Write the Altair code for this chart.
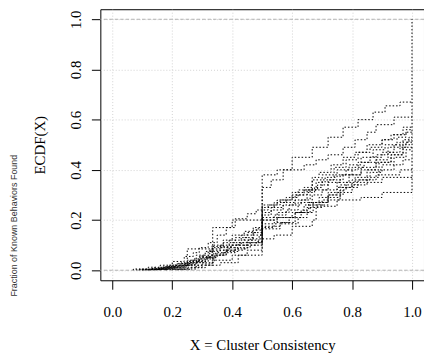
import altair as alt
import pandas as pd

X_MIN, X_MAX = -0.04, 1.04
X_TICKS = [0.0, 0.2, 0.4, 0.6, 0.8, 1.0]
Y_TICKS = [0.0, 0.2, 0.4, 0.6, 0.8, 1.0]
REF_LINES = [0.0, 1.0]

# step points (x where the ECDF jumps, value after jump)
S01 = [(0.22,0.005),(0.28,0.02),(0.335,0.17),(0.40,0.20),(0.50,0.38),(0.55,0.40),(0.60,0.45),(0.667,0.49),(0.72,0.53),(0.77,0.57),(0.82,0.60),(0.87,0.63),(0.91,0.655),(0.96,0.67)]
S02 = [(0.07,0.005),(0.12,0.012),(0.16,0.02),(0.20,0.035),(0.24,0.055),(0.27,0.07),(0.29,0.09),(0.32,0.11),(0.35,0.14),(0.38,0.17),(0.41,0.205),(0.45,0.225),(0.48,0.24),(0.50,0.33),(0.53,0.36),(0.57,0.40),(0.64,0.42),(0.68,0.44),(0.72,0.46),(0.77,0.49),(0.81,0.52),(0.85,0.55),(0.88,0.58),(0.94,0.61)]
S03 = [(0.09,0.004),(0.14,0.01),(0.19,0.02),(0.23,0.03),(0.27,0.045),(0.30,0.06),(0.333,0.09),(0.37,0.11),(0.41,0.13),(0.45,0.15),(0.48,0.165),(0.50,0.25),(0.54,0.27),(0.58,0.29),(0.62,0.32),(0.667,0.36),(0.70,0.38),(0.74,0.41),(0.78,0.44),(0.82,0.47),(0.86,0.49),(0.90,0.52),(0.93,0.54),(0.97,0.57)]
S04 = [(0.11,0.003),(0.16,0.008),(0.21,0.018),(0.25,0.03),(0.29,0.045),(0.32,0.075),(0.36,0.09),(0.40,0.11),(0.44,0.13),(0.47,0.15),(0.50,0.23),(0.53,0.25),(0.57,0.27),(0.61,0.30),(0.65,0.32),(0.68,0.35),(0.71,0.37),(0.75,0.40),(0.79,0.42),(0.83,0.45),(0.87,0.48),(0.91,0.50),(0.95,0.53),(0.98,0.55)]
S05 = [(0.12,0.004),(0.17,0.01),(0.22,0.02),(0.26,0.032),(0.30,0.05),(0.345,0.07),(0.38,0.09),(0.42,0.11),(0.46,0.125),(0.50,0.21),(0.55,0.23),(0.59,0.26),(0.63,0.28),(0.66,0.32),(0.72,0.35),(0.76,0.38),(0.80,0.41),(0.84,0.43),(0.88,0.46),(0.92,0.49),(0.96,0.51),(0.99,0.53)]
S06 = [(0.10,0.002),(0.15,0.006),(0.20,0.014),(0.24,0.025),(0.28,0.04),(0.31,0.05),(0.333,0.065),(0.37,0.08),(0.41,0.10),(0.45,0.12),(0.49,0.14),(0.50,0.20),(0.54,0.22),(0.58,0.24),(0.62,0.27),(0.667,0.30),(0.70,0.32),(0.75,0.35),(0.79,0.38),(0.83,0.41),(0.88,0.44),(0.92,0.47),(0.96,0.49),(0.98,0.51)]
S07 = [(0.13,0.003),(0.18,0.01),(0.23,0.02),(0.27,0.03),(0.31,0.045),(0.34,0.06),(0.38,0.075),(0.42,0.09),(0.46,0.11),(0.50,0.185),(0.55,0.21),(0.60,0.23),(0.64,0.26),(0.69,0.29),(0.72,0.31),(0.76,0.34),(0.81,0.37),(0.85,0.40),(0.89,0.43),(0.93,0.46),(0.97,0.49)]
S08 = [(0.08,0.002),(0.13,0.007),(0.18,0.015),(0.22,0.027),(0.26,0.04),(0.29,0.055),(0.333,0.085),(0.36,0.10),(0.39,0.12),(0.43,0.14),(0.47,0.16),(0.50,0.24),(0.52,0.26),(0.56,0.28),(0.60,0.31),(0.64,0.33),(0.667,0.37),(0.69,0.39),(0.73,0.42),(0.77,0.45),(0.81,0.47),(0.85,0.50),(0.90,0.52),(0.94,0.54),(0.98,0.56)]
S09 = [(0.14,0.004),(0.19,0.012),(0.24,0.022),(0.28,0.035),(0.32,0.05),(0.35,0.06),(0.37,0.07),(0.41,0.085),(0.45,0.10),(0.48,0.115),(0.50,0.17),(0.54,0.19),(0.59,0.21),(0.63,0.24),(0.655,0.27),(0.72,0.30),(0.77,0.33),(0.82,0.36),(0.86,0.39),(0.90,0.42),(0.94,0.45),(0.98,0.48)]
S10 = [(0.10,0.004),(0.16,0.012),(0.20,0.02),(0.25,0.035),(0.29,0.05),(0.325,0.08),(0.39,0.10),(0.43,0.12),(0.47,0.14),(0.50,0.22),(0.53,0.24),(0.57,0.26),(0.61,0.28),(0.65,0.31),(0.675,0.33),(0.70,0.36),(0.74,0.38),(0.78,0.40),(0.82,0.43),(0.86,0.45),(0.90,0.47),(0.94,0.50),(0.97,0.52)]
S11 = [(0.12,0.005),(0.17,0.015),(0.21,0.025),(0.25,0.04),(0.28,0.06),(0.31,0.075),(0.333,0.10),(0.37,0.12),(0.40,0.14),(0.44,0.155),(0.47,0.17),(0.50,0.26),(0.55,0.28),(0.60,0.30),(0.64,0.32),(0.685,0.34),(0.72,0.36),(0.77,0.38),(0.83,0.40),(0.88,0.43),(0.93,0.46),(0.97,0.50)]
S12 = [(0.20,0.004),(0.26,0.01),(0.31,0.02),(0.36,0.03),(0.42,0.06),(0.50,0.125),(0.54,0.14),(0.60,0.175),(0.667,0.20),(0.68,0.255),(0.75,0.28),(0.83,0.29),(0.90,0.31)]
S13 = [(0.18,0.005),(0.24,0.012),(0.30,0.025),(0.333,0.04),(0.40,0.06),(0.45,0.08),(0.50,0.175),(0.56,0.19),(0.61,0.23),(0.66,0.26),(0.72,0.29),(0.76,0.32),(0.78,0.35),(0.90,0.37)]
S14 = [(0.16,0.004),(0.25,0.085),(0.335,0.095),(0.40,0.10),(0.45,0.11),(0.50,0.20),(0.55,0.21),(0.61,0.23),(0.67,0.27),(0.72,0.30),(0.75,0.33),(0.80,0.36),(0.88,0.38),(0.96,0.40)]
S15 = [(0.15,0.005),(0.21,0.013),(0.25,0.02),(0.30,0.03),(0.34,0.06),(0.38,0.08),(0.44,0.10),(0.50,0.165),(0.56,0.185),(0.62,0.21),(0.65,0.25),(0.70,0.28),(0.76,0.31),(0.80,0.34),(0.85,0.37),(0.89,0.40),(0.94,0.42),(0.97,0.44)]

SERIES = {"s01": S01, "s02": S02, "s03": S03, "s04": S04, "s05": S05,
          "s06": S06, "s07": S07, "s08": S08, "s09": S09, "s10": S10,
          "s11": S11, "s12": S12, "s13": S13, "s14": S14, "s15": S15}
FINAL_JUMP = ["s12"]   # the curve whose last jump up to 1.0 at x = 1 is drawn

rows = []
for name, pts in SERIES.items():
    full = [(pts[0][0], 0.0)] + pts + [(1.0, pts[-1][1])]
    if name in FINAL_JUMP:
        full.append((1.0, 1.0))
    for i, (x, y) in enumerate(full):
        rows.append({"series": name, "i": i, "x": x, "y": y})
df = pd.DataFrame(rows)

SERIF = "Liberation Serif"
xscale = alt.Scale(domain=[X_MIN, X_MAX], nice=False, zero=False)
yscale = alt.Scale(domain=[-0.04, 1.04], nice=False, zero=False)

xaxis = alt.Axis(values=X_TICKS, format=".1f", labelFont=SERIF, labelFontSize=15,
                 labelColor="black", tickColor="black", tickSize=9, domain=False,
                 grid=True, gridColor="#d3d3d3", gridDash=[1, 2], gridWidth=1,
                 labelPadding=27, labelBaseline="alphabetic",
                 title="X = Cluster Consistency", titleFont=SERIF, titleFontSize=15,
                 titleFontWeight="normal", titleColor="black",
                 titleY=70, titleBaseline="alphabetic")
yaxis = alt.Axis(values=Y_TICKS, format=".1f", labelFont=SERIF, labelFontSize=15,
                 labelColor="black", tickColor="black", tickSize=9, domain=False,
                 grid=True, gridColor="#d3d3d3", gridDash=[1, 2], gridWidth=1,
                 labelAngle=270, labelAlign="center", labelBaseline="alphabetic",
                 labelPadding=11,
                 title="ECDF(X)", titleFont=SERIF, titleFontSize=15,
                 titleFontWeight="normal", titleColor="black", titleAngle=270,
                 titleX=-56, titleY=136.5, titleAlign="center",
                 titleBaseline="alphabetic")

rules = alt.Chart(pd.DataFrame({"y": REF_LINES})).mark_rule(
    color="#b3b3b3", strokeDash=[3.5, 2], strokeWidth=1
).encode(y=alt.Y("y:Q", scale=yscale, axis=yaxis))

lines = alt.Chart(df).mark_line(
    interpolate="step-after", color="black", strokeWidth=1,
    strokeDash=[1.5, 2], clip=True
).encode(
    x=alt.X("x:Q", scale=xscale, axis=xaxis),
    y=alt.Y("y:Q", scale=yscale, axis=yaxis),
    detail="series:N",
    order="i:Q",
)

side = alt.Chart(pd.DataFrame({"t": ["Fraction of Known Behaviors Found"]})).mark_text(
    font="Liberation Sans", fontSize=9, angle=270, align="center",
    baseline="alphabetic", color="#333333"
).encode(text="t:N", x=alt.value(-84), y=alt.value(218))

chart = alt.layer(rules, lines, side).properties(
    width=326, height=273,
    autosize=alt.AutoSizeParams(type="none"),
    padding={"left": 93, "top": 0, "right": 0, "bottom": 72},
    background="white",
).configure_view(stroke="black", strokeWidth=1)

chart.save("out.html", embed_options={"renderer": "svg", "actions": False})
